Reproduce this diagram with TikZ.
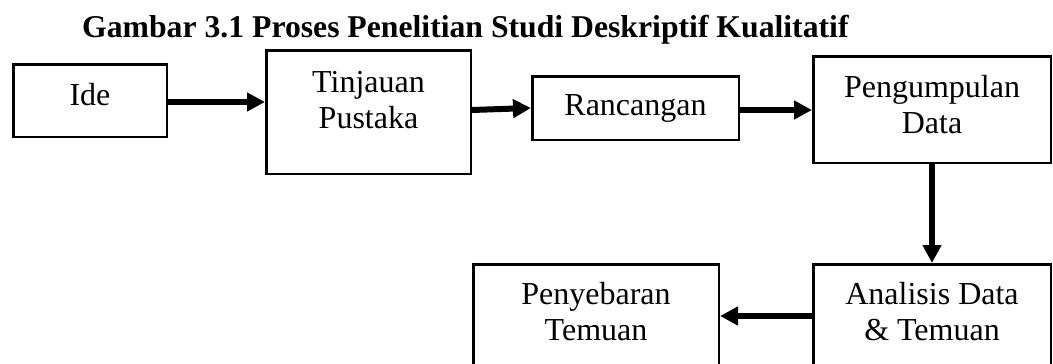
\documentclass[tikz,border=0pt]{standalone}
\usepackage{fontspec}
\setmainfont{Liberation Serif}
\usetikzlibrary{arrows.meta}
\begin{document}
\begin{tikzpicture}[x=1pt,y=-1pt,
  box/.style={draw, line width=2.5pt, inner sep=0pt},
  lbl/.style={anchor=base, inner sep=0pt, font=\fontsize{32}{36}\selectfont},
  arr/.style={line width=6pt, -{Triangle[length=18pt,width=18pt]}}]
\clip (0,0) rectangle (1053,364);
\node[anchor=base west, inner sep=0pt, font=\bfseries\fontsize{31.7}{36}\selectfont] (title) at (82,37) {Gambar 3.1 Proses Penelitian Studi Deskriptif Kualitatif};
% boxes
\node[box, minimum width=153.5pt, minimum height=72.5pt] (ide) at (90,100.5) {};
\node[box, minimum width=204.5pt, minimum height=123.5pt] (tin) at (368.5,112) {};
\node[box, minimum width=206.5pt, minimum height=63.5pt] (ran) at (635.5,108) {};
\node[box, minimum width=237.5pt, minimum height=106.5pt] (pen) at (932,109.5) {};
\node[box, minimum width=237.5pt, minimum height=103.5pt] (ana) at (932,316) {};
\node[box, minimum width=245.5pt, minimum height=103.5pt] (pey) at (596,316) {};
% labels
\node[lbl] (tide) at (90,105) {Ide};
\node[lbl] (ttin) at (368.5,92) {\begin{tabular}[t]{@{}c@{}}Tinjauan\\Pustaka\end{tabular}};
\node[lbl] (tran) at (635.5,115) {Rancangan};
\node[lbl] (tpen) at (932,97) {\begin{tabular}[t]{@{}c@{}}Pengumpulan\\Data\end{tabular}};
\node[lbl] (tana) at (932,304) {\begin{tabular}[t]{@{}c@{}}Analisis Data\\\& Temuan\end{tabular}};
\node[lbl] (tpey) at (596,304) {\begin{tabular}[t]{@{}c@{}}Penyebaran\\Temuan\end{tabular}};
% arrows
\draw[arr] ([yshift=-1.5pt]ide.east) -- ([yshift=-1.5pt]ide.east -| tin.west);
\draw[arr] ([yshift=2pt]tin.east) -- (ran.west);
\draw[arr] ([yshift=-2pt]ran.east) -- ([yshift=-2pt]ran.east -| pen.west);
\draw[arr] (pen.south) -- (ana.north);
\draw[arr] (ana.west) -- (pey.east);
\end{tikzpicture}
\end{document}
